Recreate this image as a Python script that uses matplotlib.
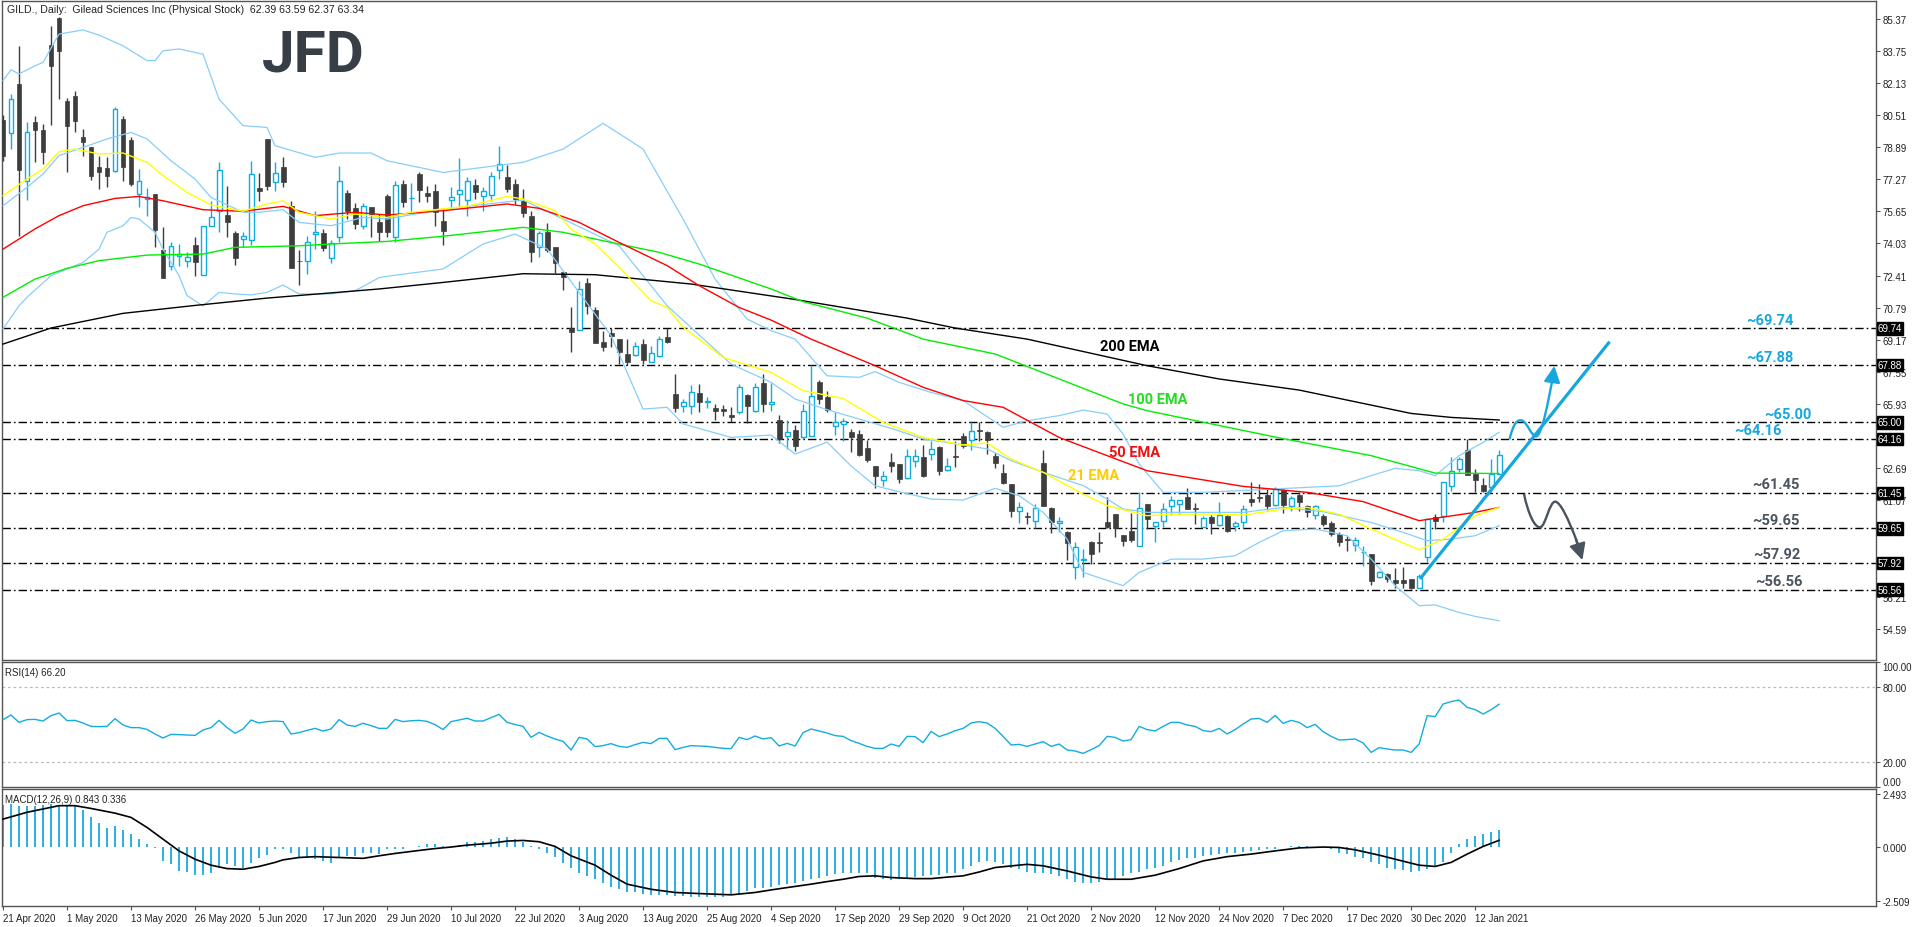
import numpy as np
import matplotlib
matplotlib.use("Agg")
import matplotlib.pyplot as plt
from matplotlib.path import Path
from matplotlib.patches import PathPatch

plt.rcParams['font.family'] = ['Liberation Sans', 'DejaVu Sans']

# ---------------- data ----------------
title = "GILD., Daily:  Gilead Sciences Inc (Physical Stock)  62.39 63.59 62.37 63.34"

date_labels = ["21 Apr 2020", "1 May 2020", "13 May 2020", "26 May 2020", "5 Jun 2020",
               "17 Jun 2020", "29 Jun 2020", "10 Jul 2020", "22 Jul 2020", "3 Aug 2020",
               "13 Aug 2020", "25 Aug 2020", "4 Sep 2020", "17 Sep 2020", "29 Sep 2020",
               "9 Oct 2020", "21 Oct 2020", "2 Nov 2020", "12 Nov 2020", "24 Nov 2020",
               "7 Dec 2020", "17 Dec 2020", "30 Dec 2020", "12 Jan 2021"]

opens = [80.27, 79.58, 82.07, 77.16, 80.14, 79.75, 84.04, 85.40, 81.19, 81.45,
         79.40, 78.87, 77.87, 77.82, 77.68, 80.30, 79.25, 76.50, 76.25, 76.52,
         73.70, 72.87, 73.41, 73.12, 73.95, 72.45, 74.92, 75.68, 75.46, 74.54,
         74.25, 74.20, 76.82, 79.30, 77.14, 77.87, 75.90, 73.16, 73.16, 74.49,
         74.54, 73.27, 74.37, 76.57, 75.80, 74.89, 75.85, 75.09, 76.44, 74.33,
         77.03, 76.30, 77.53, 76.57, 76.67, 75.16, 76.20, 76.50, 76.22, 76.97,
         76.40, 76.49, 77.75, 77.36, 77.01, 76.17, 75.41, 73.83, 74.59, 73.83,
         72.59, 69.76, 69.64, 72.03, 70.67, 69.04, 69.50, 69.20, 68.45, 68.41,
         68.95, 68.06, 68.33, 69.29, 66.43, 65.84, 65.81, 66.46, 66.01, 65.72,
         65.67, 65.37, 65.50, 66.38, 65.59, 66.97, 65.93, 65.12, 64.29, 64.61,
         64.24, 64.33, 67.02, 66.26, 64.80, 64.92, 64.53, 64.40, 63.69, 62.80,
         62.07, 62.98, 62.90, 62.18, 63.05, 63.25, 63.39, 63.74, 62.60, 63.30,
         64.30, 64.09, 64.60, 64.50, 63.29, 62.43, 61.89, 60.51, 60.26, 60.04,
         62.95, 60.68, 59.90, 59.45, 57.68, 58.07, 58.95, 58.95, 59.99, 60.38,
         59.32, 59.50, 58.74, 60.88, 59.79, 60.04, 60.79, 60.88, 61.25, 60.66,
         59.70, 60.24, 59.84, 60.29, 59.79, 59.95, 61.13, 61.23, 61.33, 60.84,
         61.60, 60.76, 61.33, 60.76, 60.32, 60.29, 59.92, 59.37, 59.08, 58.83,
         58.44, 58.36, 57.21, 57.35, 57.04, 57.04, 57.09, 56.62, 58.22, 60.24,
         60.26, 61.77, 62.64, 63.60, 62.39, 61.84, 61.72, 62.39]
highs = [80.50, 81.57, 84.00, 80.14, 80.44, 80.05, 85.01, 85.43, 81.36, 81.72,
         79.80, 78.87, 78.42, 78.40, 80.93, 80.47, 79.38, 77.78, 76.85, 76.52,
         74.84, 74.08, 74.00, 73.58, 74.33, 74.92, 76.18, 78.12, 76.91, 74.67,
         74.59, 78.17, 77.58, 79.30, 78.12, 78.37, 76.17, 73.71, 74.42, 75.66,
         74.75, 74.20, 77.92, 76.74, 76.07, 76.07, 75.85, 75.51, 76.52, 77.18,
         77.23, 77.08, 77.65, 76.94, 77.03, 75.80, 76.86, 78.32, 77.36, 77.28,
         76.86, 77.65, 78.93, 77.98, 77.28, 76.77, 75.68, 74.67, 75.06, 73.83,
         72.59, 70.80, 72.11, 72.27, 70.80, 69.63, 69.74, 69.20, 69.20, 69.07,
         69.20, 68.87, 69.34, 69.74, 67.44, 66.18, 66.88, 66.93, 66.26, 65.92,
         65.87, 65.76, 66.93, 66.43, 66.97, 67.44, 66.97, 65.37, 65.12, 64.87,
         65.93, 67.89, 67.14, 66.60, 65.54, 65.20, 64.66, 64.63, 64.11, 62.81,
         62.53, 63.45, 62.90, 63.66, 63.66, 63.86, 64.08, 63.79, 63.20, 64.04,
         64.46, 65.04, 65.03, 64.56, 63.45, 62.90, 61.89, 60.96, 60.49, 60.88,
         63.60, 60.71, 60.21, 59.54, 58.95, 58.60, 59.03, 59.48, 61.22, 60.38,
         59.32, 60.43, 61.47, 60.88, 59.99, 60.93, 61.27, 61.08, 61.67, 60.93,
         60.29, 60.32, 60.96, 60.32, 60.04, 60.83, 61.97, 61.89, 61.64, 61.72,
         61.64, 61.30, 61.47, 60.83, 60.83, 60.37, 60.04, 59.48, 59.28, 59.20,
         58.78, 58.36, 57.51, 57.38, 57.63, 57.68, 57.09, 57.35, 60.16, 60.37,
         61.97, 63.23, 63.23, 64.16, 62.64, 62.17, 63.15, 63.59]
lows = [78.20, 78.79, 74.42, 76.23, 78.12, 78.03, 80.00, 81.31, 77.61, 79.63,
        78.46, 77.23, 76.77, 76.86, 77.61, 77.19, 76.94, 75.85, 75.43, 73.83,
        72.30, 72.70, 72.87, 72.82, 72.40, 72.45, 74.90, 74.62, 74.33, 72.94,
        73.83, 73.95, 76.18, 76.74, 76.69, 76.86, 72.77, 71.93, 72.48, 73.75,
        73.66, 73.02, 74.12, 75.26, 74.76, 74.76, 74.33, 74.17, 74.33, 74.12,
        75.88, 75.63, 76.10, 76.13, 74.92, 73.95, 75.76, 75.90, 75.43, 76.27,
        75.68, 76.18, 77.28, 76.60, 76.02, 75.38, 73.11, 73.33, 73.61, 72.54,
        71.69, 68.53, 69.64, 70.47, 68.99, 68.62, 68.82, 67.94, 67.89, 68.36,
        67.94, 68.03, 68.28, 68.99, 65.50, 65.54, 65.44, 65.54, 65.71, 65.13,
        65.34, 65.00, 65.42, 64.97, 65.50, 65.50, 65.59, 63.96, 63.66, 63.57,
        64.16, 64.33, 65.93, 65.54, 64.36, 64.08, 63.49, 63.32, 62.98, 61.67,
        61.77, 62.51, 61.94, 62.14, 62.73, 62.23, 63.12, 62.34, 62.55, 62.73,
        63.69, 63.62, 64.06, 63.40, 62.68, 61.89, 60.21, 59.90, 59.87, 59.65,
        60.80, 59.40, 59.45, 58.07, 57.10, 57.18, 57.85, 58.44, 59.65, 59.20,
        58.74, 58.95, 58.74, 59.62, 58.95, 59.70, 60.32, 60.37, 60.63, 59.87,
        59.70, 59.37, 59.79, 59.48, 59.53, 59.65, 60.80, 60.96, 60.59, 60.76,
        60.42, 60.54, 60.54, 60.21, 60.12, 59.79, 59.28, 58.74, 58.52, 58.52,
        57.73, 56.79, 57.13, 56.96, 56.62, 56.62, 56.59, 56.62, 57.94, 59.62,
        59.99, 61.55, 62.48, 62.34, 61.47, 61.47, 61.47, 62.37]
closes = [78.46, 81.31, 77.75, 79.63, 79.77, 78.64, 83.00, 83.72, 79.97, 80.22,
          79.13, 77.45, 77.61, 77.45, 80.81, 77.90, 77.02, 77.16, 76.35, 74.72,
          72.30, 73.88, 73.48, 73.32, 73.07, 74.89, 75.34, 77.75, 75.12, 73.27,
          74.38, 77.53, 76.69, 76.94, 77.58, 77.11, 72.77, 73.12, 74.08, 74.59,
          73.78, 74.03, 77.19, 75.65, 75.01, 75.93, 75.51, 74.59, 74.59, 76.97,
          76.10, 76.34, 76.74, 76.44, 75.60, 74.67, 76.35, 76.71, 77.16, 76.64,
          76.67, 77.45, 78.03, 76.77, 76.27, 75.56, 73.61, 74.54, 73.71, 73.02,
          72.35, 69.54, 71.71, 70.88, 68.99, 68.79, 69.37, 68.53, 68.06, 68.87,
          68.16, 68.48, 69.20, 69.04, 65.74, 66.04, 66.51, 66.04, 66.08, 65.59,
          65.59, 65.25, 66.77, 65.84, 66.77, 65.92, 66.04, 64.16, 64.50, 63.79,
          65.59, 66.35, 66.18, 65.64, 65.03, 65.07, 64.24, 63.35, 63.12, 62.28,
          62.28, 62.81, 62.14, 63.29, 63.29, 62.28, 63.66, 62.56, 62.81, 63.27,
          63.79, 64.58, 64.57, 64.13, 62.95, 61.94, 60.54, 60.71, 60.24, 60.66,
          60.80, 59.95, 60.04, 58.90, 58.69, 58.10, 58.36, 58.91, 59.70, 59.65,
          59.03, 59.08, 60.66, 60.12, 59.95, 60.63, 61.08, 61.08, 60.63, 60.63,
          60.16, 59.92, 60.32, 59.53, 59.92, 60.63, 61.00, 61.18, 60.79, 61.64,
          60.84, 61.16, 60.96, 60.49, 60.76, 59.87, 59.37, 58.98, 59.05, 59.08,
          58.47, 57.01, 57.43, 57.09, 56.89, 56.88, 56.62, 57.23, 60.12, 60.04,
          61.97, 62.56, 63.15, 62.34, 62.11, 61.55, 62.39, 63.34]

# moving averages / bands, read at sample bars
ema21_bars = [0, 3, 5, 7, 9, 12, 15, 18, 20, 23, 26, 29, 30, 33, 35, 37, 41, 44, 48, 51,
              58, 63, 65, 69, 71, 74, 77, 81, 83, 85, 90, 96, 100, 105, 110, 115, 120, 123,
              126, 130, 135, 138, 143, 146, 152, 155, 160, 163, 167, 171, 177, 180, 184, 187]
ema21 = [76.44, 77.28, 77.78, 78.66, 78.79, 78.54, 78.59, 78.12, 77.45, 76.60,
         75.97, 75.73, 75.65, 76.02, 76.18, 75.60, 75.26, 75.51, 75.34, 75.60,
         75.90, 76.40, 76.27, 75.68, 74.75, 74.00, 72.82, 71.14, 70.80, 69.80,
         68.28, 67.52, 66.60, 66.21, 65.00, 64.24, 63.86, 63.96, 63.15, 62.48,
         61.38, 60.80, 60.29, 60.37, 60.37, 60.32, 60.63, 60.71, 60.37, 59.62,
         58.57, 59.11, 60.29, 60.71]

ema50_bars = [0, 4, 7, 10, 14, 17, 20, 25, 30, 35, 39, 44, 48, 55, 63, 67, 72, 77, 83,
              87, 92, 96, 101, 109, 115, 120, 125, 132, 138, 143, 148, 155, 163, 170,
              177, 179, 184, 187]
ema50 = [73.74, 74.76, 75.43, 75.93, 76.30, 76.40, 76.18, 75.73, 75.65, 75.90,
         75.43, 75.60, 75.46, 75.68, 76.02, 75.80, 75.09, 74.08, 72.91, 71.90,
         70.80, 70.16, 69.20, 67.86, 66.77, 66.10, 65.76, 64.24, 63.32, 62.56,
         62.23, 61.77, 61.47, 61.00, 60.04, 60.16, 60.46, 60.71]

ema100_bars = [0, 4, 8, 12, 18, 25, 29, 37, 41, 48, 55, 65, 70, 76, 82, 87, 96, 100,
               108, 115, 124, 132, 140, 143, 159, 171, 179, 187]
ema100 = [71.31, 72.23, 72.77, 73.16, 73.44, 73.49, 73.83, 73.91, 74.00, 74.13,
          74.39, 74.84, 74.59, 74.08, 73.58, 72.99, 71.73, 71.09, 70.26, 69.20,
          68.45, 67.19, 65.93, 65.59, 64.26, 63.32, 62.44, 62.42]

ema200_bars = [0, 6, 15, 24, 33, 47, 55, 65, 74, 86, 99, 113, 119, 128, 143, 152, 162,
               176, 181, 187]
ema200 = [68.95, 69.76, 70.50, 70.90, 71.27, 71.73, 72.06, 72.50, 72.45, 71.98,
          71.20, 70.26, 69.76, 69.20, 67.86, 67.19, 66.63, 65.45, 65.25, 65.12]

bb_up_bars = [0, 1, 2, 4, 5, 7, 10, 12, 15, 18, 19, 20, 22, 25, 27, 30, 33, 34, 39, 42,
              46, 48, 55, 65, 70, 75, 80, 85, 89, 93, 96, 99, 103, 107, 109, 112, 116,
              120, 125, 128, 132, 135, 138, 140, 142, 145, 150, 159, 167, 171, 174, 177,
              179, 182, 185, 187]
bb_up = [82.24, 82.79, 82.58, 82.99, 83.16, 84.59, 84.80, 84.54, 84.00, 83.25,
         83.25, 83.75, 83.84, 83.58, 81.31, 79.97, 79.88, 78.96, 78.37, 78.59,
         78.59, 78.20, 77.61, 78.12, 78.79, 80.09, 78.79, 75.26, 72.23, 70.21,
         69.63, 69.20, 67.35, 67.27, 67.56, 67.02, 66.51, 66.10, 64.75, 65.08,
         65.34, 65.62, 65.42, 64.41, 62.90, 61.47, 61.47, 61.64, 61.80, 62.31,
         62.68, 62.56, 62.31, 63.32, 63.99, 64.50]

bb_mid_bars = [0, 3, 5, 7, 10, 13, 16, 18, 21, 24, 26, 30, 32, 35, 37, 41, 45, 48, 55,
               65, 70, 77, 83, 91, 96, 99, 103, 107, 111, 115, 120, 123, 126, 130, 135,
               138, 140, 143, 155, 160, 165, 171, 175, 178, 181, 184, 187]
bb_mid = [75.93, 76.86, 77.53, 78.46, 78.87, 79.30, 79.63, 79.30, 78.20, 77.28,
          76.35, 75.60, 75.60, 75.73, 75.09, 74.92, 75.34, 75.26, 75.76, 76.22,
          75.26, 73.91, 70.89, 67.94, 67.02, 66.18, 65.64, 65.17, 64.70, 64.16,
          63.86, 63.66, 63.07, 62.48, 61.81, 61.13, 60.63, 60.46, 60.46, 60.71,
          60.49, 59.95, 59.45, 59.03, 59.11, 59.28, 59.79]

bb_low_bars = [0, 2, 3, 6, 7, 10, 12, 13, 15, 16, 17, 19, 20, 22, 23, 25, 27, 29, 31, 33,
               35, 37, 41, 44, 47, 48, 55, 60, 64, 68, 72, 76, 80, 83, 85, 91, 96, 99,
               103, 106, 109, 112, 116, 120, 124, 127, 130, 133, 135, 140, 142, 146, 150,
               154, 157, 160, 164, 168, 171, 174, 177, 179, 182, 184, 187]
bb_low = [69.71, 70.88, 71.31, 72.40, 72.57, 73.07, 73.74, 74.59, 74.92, 75.34,
          75.26, 74.59, 73.74, 72.40, 71.40, 70.87, 71.56, 71.48, 71.43, 71.56,
          71.93, 71.48, 71.48, 71.64, 72.30, 72.37, 72.74, 74.00, 74.50, 73.75,
          71.56, 69.37, 65.67, 65.76, 64.92, 64.24, 64.36, 63.40, 64.00, 62.80,
          61.80, 61.50, 61.13, 61.08, 61.67, 61.30, 60.46, 59.11, 57.43, 56.76,
          57.43, 58.10, 58.10, 58.27, 58.94, 59.53, 59.62, 59.28, 58.10, 56.76,
          55.75, 55.79, 55.41, 55.21, 54.99]

rsi = [53.9, 57.6, 51.7, 53.9, 54.1, 52.8, 57.1, 59.2, 53.1, 53.3,
       51.2, 48.5, 48.3, 48.5, 54.7, 49.6, 47.5, 47.5, 46.1, 42.4,
       39.2, 42.1, 41.9, 41.6, 41.3, 45.6, 47.5, 53.3, 47.5, 43.0,
       46.4, 53.6, 51.2, 52.3, 52.8, 52.3, 42.4, 43.5, 45.3, 46.9,
       44.8, 46.4, 53.9, 49.6, 48.5, 51.0, 49.1, 46.9, 46.9, 54.1,
       52.3, 53.0, 53.3, 52.5, 49.9, 45.9, 52.3, 53.6, 55.0, 52.8,
       52.8, 55.5, 58.1, 51.7, 50.0, 48.5, 39.7, 43.7, 40.8, 38.4,
       36.5, 29.6, 39.7, 38.4, 32.3, 33.1, 34.7, 32.5, 31.7, 33.9,
       35.7, 34.7, 38.9, 38.9, 29.9, 31.7, 33.1, 32.8, 32.5, 31.7,
       30.9, 30.7, 39.7, 37.9, 40.8, 38.4, 39.5, 32.8, 34.9, 32.8,
       43.5, 46.4, 44.8, 43.2, 41.1, 40.5, 37.1, 34.9, 32.5, 30.9,
       30.9, 34.4, 32.5, 40.5, 40.3, 35.5, 44.5, 40.3, 42.4, 45.0,
       46.9, 51.2, 52.3, 51.2, 46.9, 40.5, 33.6, 34.1, 32.5, 34.4,
       36.3, 32.5, 34.4, 29.6, 28.8, 26.9, 29.9, 33.1, 40.5, 39.7,
       36.8, 37.9, 48.5, 45.9, 44.8, 48.5, 51.7, 51.7, 49.6, 48.5,
       45.1, 44.3, 46.9, 42.4, 45.9, 50.4, 54.4, 54.9, 51.7, 57.3,
       50.9, 53.3, 51.7, 47.5, 50.1, 44.3, 40.5, 37.6, 37.9, 38.4,
       35.2, 27.7, 31.5, 30.4, 29.6, 29.6, 27.7, 34.4, 57.1, 56.3,
       66.4, 68.3, 69.6, 63.7, 61.9, 58.4, 61.9, 66.2]

macd_main = [2.00, 2.04, 1.96, 1.93, 1.96, 1.99, 2.04, 2.01, 1.96, 1.96,
             1.75, 1.41, 1.17, 0.91, 0.99, 0.82, 0.63, 0.39, 0.16, -0.03,
             -0.63, -0.79, -1.10, -1.13, -1.30, -1.27, -1.18, -0.94, -0.79, -0.86,
             -0.94, -0.71, -0.47, -0.36, -0.08, -0.05, -0.27, -0.47, -0.47, -0.55,
             -0.63, -0.71, -0.47, -0.39, -0.39, -0.27, -0.27, -0.31, -0.08, -0.05,
             -0.08, 0.00, 0.08, 0.16, 0.16, 0.05, 0.00, 0.11, 0.24, 0.28,
             0.31, 0.39, 0.44, 0.47, 0.42, 0.27, 0.05, -0.08, -0.27, -0.43,
             -0.71, -0.94, -1.18, -1.34, -1.49, -1.68, -1.83, -1.96, -2.08, -2.11,
             -2.19, -2.22, -2.24, -2.24, -2.27, -2.27, -2.30, -2.30, -2.32, -2.32,
             -2.32, -2.24, -2.19, -2.02, -1.88, -1.88, -1.83, -1.77, -1.72, -1.65,
             -1.57, -1.49, -1.41, -1.34, -1.26, -1.21, -1.18, -1.18, -1.21, -1.41,
             -1.49, -1.52, -1.49, -1.43, -1.38, -1.34, -1.30, -1.30, -1.21, -1.18,
             -1.02, -0.86, -0.70, -0.64, -0.70, -0.78, -0.94, -1.02, -1.15, -1.18,
             -1.21, -1.26, -1.34, -1.49, -1.62, -1.65, -1.65, -1.62, -1.49, -1.46,
             -1.34, -1.21, -1.15, -1.02, -0.94, -0.86, -0.70, -0.58, -0.51, -0.47,
             -0.39, -0.36, -0.31, -0.27, -0.24, -0.20, -0.16, -0.11, -0.08, -0.05,
             0.03, 0.08, 0.08, 0.06, 0.03, 0.00, -0.08, -0.27, -0.31, -0.43,
             -0.51, -0.70, -0.78, -0.94, -1.02, -1.05, -1.15, -1.10, -1.02, -0.86,
             -0.67, -0.24, 0.16, 0.39, 0.52, 0.63, 0.71, 0.843]

signal_bars = [0, 3, 7, 9, 11, 14, 16, 18, 20, 22, 24, 26, 28, 30, 32, 34, 35, 37, 39, 42,
               45, 47, 49, 52, 54, 56, 58, 61, 63, 65, 67, 69, 71, 74, 76, 78, 81, 84, 87,
               89, 91, 94, 96, 98, 101, 103, 105, 107, 109, 111, 114, 116, 118, 120, 122,
               124, 128, 130, 133, 136, 138, 141, 144, 147, 150, 153, 156, 159, 162, 165,
               167, 169, 172, 174, 177, 179, 181, 183, 185, 187]
signal = [1.33, 1.65, 1.96, 1.96, 1.83, 1.61, 1.41, 0.94, 0.39, -0.16,
          -0.55, -0.83, -0.99, -1.02, -0.89, -0.70, -0.58, -0.47, -0.43, -0.47,
          -0.51, -0.39, -0.28, -0.14, -0.05, 0.02, 0.11, 0.20, 0.30, 0.33,
          0.27, 0.05, -0.39, -0.83, -1.30, -1.72, -1.96, -2.11, -2.16, -2.19,
          -2.22, -2.11, -1.99, -1.88, -1.72, -1.60, -1.49, -1.36, -1.33, -1.41,
          -1.46, -1.46, -1.39, -1.33, -1.15, -0.94, -0.79, -0.86, -1.10, -1.38,
          -1.49, -1.49, -1.30, -0.99, -0.63, -0.43, -0.31, -0.16, -0.02, 0.02,
          0.00, -0.11, -0.36, -0.55, -0.83, -0.89, -0.70, -0.31, 0.05, 0.336]

price_ticks = [85.37, 83.75, 82.13, 80.51, 78.89, 77.27, 75.65, 74.03, 72.41, 70.79,
               69.17, 67.55, 65.93, 64.31, 62.69, 61.07, 59.45, 57.83, 56.21, 54.59]
levels = [69.74, 67.88, 65.00, 64.16, 61.45, 59.65, 57.92, 56.56]
level_is_upside = [True, True, True, True, False, False, False, False]
rsi_ticks = [100, 80, 20, 0]
macd_ticks = [2.493, 0.0, -2.509]

# ---------------- styling ----------------
BULL = '#12ADDF'
BEAR = '#3d3d3d'
BAND = '#87CEFA'
CYAN = '#17A7DE'
GREY = '#4A545E'
W, H = 1916, 928

fig = plt.figure(figsize=(W / 100, H / 100), dpi=100)


def panel(x0, y0, x1, y1):
    return fig.add_axes([x0 / W, 1 - y1 / H, (x1 - x0) / W, (y1 - y0) / H])


ax = panel(2, 2, 1876, 661)
ax_rsi = panel(2, 663, 1876, 788)
ax_macd = panel(2, 790, 1876, 907)

for a in (ax, ax_rsi, ax_macd):
    a.set_xlim(-0.125, 234.1)
    for s in a.spines.values():
        s.set_color('#555555')
        s.set_linewidth(1.0)
    a.yaxis.tick_right()
    a.tick_params(axis='y', direction='out', length=3, width=0.8, colors='#555555',
                  labelcolor='#222222', labelsize=7, pad=1.5)
    a.tick_params(axis='x', bottom=False, labelbottom=False)

# ---- main price panel ----
x = np.arange(len(closes))
o, h, l, c = (np.array(v) for v in (opens, highs, lows, closes))
up = c >= o
dn = ~up

ax.vlines(x[up], l[up], h[up], color=BULL, lw=1.0, zorder=3)
ax.vlines(x[dn], l[dn], h[dn], color=BEAR, lw=1.0, zorder=3)
ax.bar(x[up], np.maximum(c[up] - o[up], 0.04), bottom=o[up], width=0.62,
       facecolor='white', edgecolor=BULL, lw=1.0, zorder=4)
ax.bar(x[dn], np.maximum(o[dn] - c[dn], 0.04), bottom=c[dn], width=0.62,
       facecolor=BEAR, edgecolor=BEAR, lw=0.5, zorder=4)

ax.plot(bb_up_bars, bb_up, color=BAND, lw=0.9, zorder=5)
ax.plot(bb_mid_bars, bb_mid, color=BAND, lw=0.9, zorder=5)
ax.plot(bb_low_bars, bb_low, color=BAND, lw=0.9, zorder=5)
ax.plot(ema200_bars, ema200, color='black', lw=1.0, zorder=5)
ax.plot(ema100_bars, ema100, color='#00EE00', lw=1.0, zorder=5)
ax.plot(ema50_bars, ema50, color='#FF0000', lw=1.0, zorder=5)
ax.plot(ema21_bars, ema21, color='#FFFF00', lw=1.0, zorder=5)

for lvl in levels:
    ax.axhline(lvl, color='black', lw=1.0, dashes=(6, 2.2, 1.2, 2.2), zorder=2)

ax.set_ylim(53.01, 86.26)
ax.set_yticks(price_ticks)
# scale labels hidden under a level box are left blank, as on the chart
ax.set_yticklabels(['' if min(abs(t - v) for v in levels) < 0.25 else f'{t:.2f}'
                    for t in price_ticks])

# black price boxes on the right scale
for lvl in levels:
    ax.annotate(f'{lvl:.2f}', xy=(1, lvl), xycoords=('axes fraction', 'data'),
                xytext=(1.4, 0), textcoords='offset points', ha='left', va='center',
                fontsize=7, color='white', annotation_clip=False, zorder=10,
                bbox=dict(boxstyle='square,pad=0.12', fc='black', ec='black'))

# level captions
label_x = [217.9, 217.9, 220.1, 216.4, 218.6, 218.6, 218.75, 219.0]
for lvl, lx, upside in zip(levels, label_x, level_is_upside):
    ax.text(lx, lvl + 0.43, f'~{lvl:.2f}', color=CYAN if upside else GREY,
            fontsize=10.5, fontweight='bold', family=['Roboto', 'DejaVu Sans'],
            ha='left', va='center', zorder=8)

# moving-average captions
ema_font = dict(fontsize=10.5, fontweight='bold', family=['Roboto', 'DejaVu Sans'],
                ha='left', va='center', zorder=8)
ax.text(137.1, 68.85, '200 EMA', color='black', **ema_font)
ax.text(140.6, 66.18, '100 EMA', color='#22DD22', **ema_font)
ax.text(138.25, 63.50, '50 EMA', color='#EE1111', **ema_font)
ax.text(133.1, 62.34, '21 EMA', color='#FFCC00', **ema_font)

# trend line and scenario arrows
ax.plot([177.1, 200.8], [57.1, 69.07], color=CYAN, lw=2.3, solid_capstyle='butt', zorder=7)

up_path = Path([(188.3, 64.15), (188.8, 65.0), (189.3, 65.14), (189.8, 65.1),
                (190.5, 65.05), (191.1, 64.2), (191.7, 64.3),
                (192.4, 64.45), (193.1, 66.0), (193.7, 67.25)],
               [Path.MOVETO] + [Path.CURVE4] * 9)
ax.add_patch(PathPatch(up_path, fc='none', ec=CYAN, lw=1.7, zorder=7))
ax.annotate('', xy=(193.9, 67.85), xytext=(193.6, 67.0),
            arrowprops=dict(arrowstyle='-|>,head_length=0.7,head_width=0.35',
                            color=CYAN, lw=1.7, shrinkA=0, shrinkB=0,
                            mutation_scale=14), zorder=7)

dn_path = Path([(190.1, 61.4), (190.6, 60.4), (191.5, 59.6), (192.2, 59.72),
                (192.8, 59.8), (193.3, 61.0), (194.0, 61.0),
                (194.6, 61.0), (195.6, 60.2), (196.8, 58.9)],
               [Path.MOVETO] + [Path.CURVE4] * 9)
ax.add_patch(PathPatch(dn_path, fc='none', ec=GREY, lw=1.7, zorder=7))
ax.annotate('', xy=(197.4, 58.05), xytext=(196.6, 59.1),
            arrowprops=dict(arrowstyle='-|>,head_length=0.7,head_width=0.35',
                            color=GREY, lw=1.7, shrinkA=0, shrinkB=0,
                            mutation_scale=14), zorder=7)

# ---- RSI panel ----
ax_rsi.plot(x, rsi, color=BULL, lw=1.0, zorder=3)
for lv in (80, 20):
    ax_rsi.axhline(lv, color='#BBBBBB', lw=0.9, dashes=(2.2, 2.2), zorder=1)
ax_rsi.set_ylim(0, 100)
ax_rsi.set_yticks(rsi_ticks)
ax_rsi.set_yticklabels([f'{t:.2f}' for t in rsi_ticks])
rl = ax_rsi.get_yticklabels()
rl[0].set_va('top')
rl[-1].set_va('bottom')

# ---- MACD panel ----
ax_macd.bar(x, macd_main, width=0.22, color='#2AB3E2', zorder=2)
ax_macd.plot(signal_bars, signal, color='black', lw=1.2, zorder=3)
ax_macd.set_ylim(-2.744, 2.742)
ax_macd.set_yticks(macd_ticks)
ax_macd.set_yticklabels([f'{t:.3f}' for t in macd_ticks])

ax_macd.set_xticks(np.arange(len(date_labels)) * 8)
ax_macd.set_xticklabels(date_labels)
ax_macd.tick_params(axis='x', bottom=True, labelbottom=True, direction='out',
                    length=3, width=0.8, colors='#555555', labelcolor='#222222',
                    labelsize=7, pad=2)
for lbl in ax_macd.get_xticklabels():
    lbl.set_ha('left')

# ---- texts ----
fig.text(7 / W, 1 - 10 / H, title, fontsize=7.6, color='#222222', ha='left', va='center')
fig.text(5 / W, 1 - 673 / H, 'RSI(14) 66.20', fontsize=7, color='#222222', ha='left', va='center')
fig.text(5 / W, 1 - 800 / H, 'MACD(12,26,9) 0.843 0.336', fontsize=7, color='#222222',
         ha='left', va='center')
fig.text(262 / W, 1 - 71 / H, 'JFD', fontsize=42, fontweight='bold',
         family=['Roboto', 'DejaVu Sans'], color='#373E46', ha='left', va='baseline')

fig.savefig('out.png', dpi=100, facecolor='white')
